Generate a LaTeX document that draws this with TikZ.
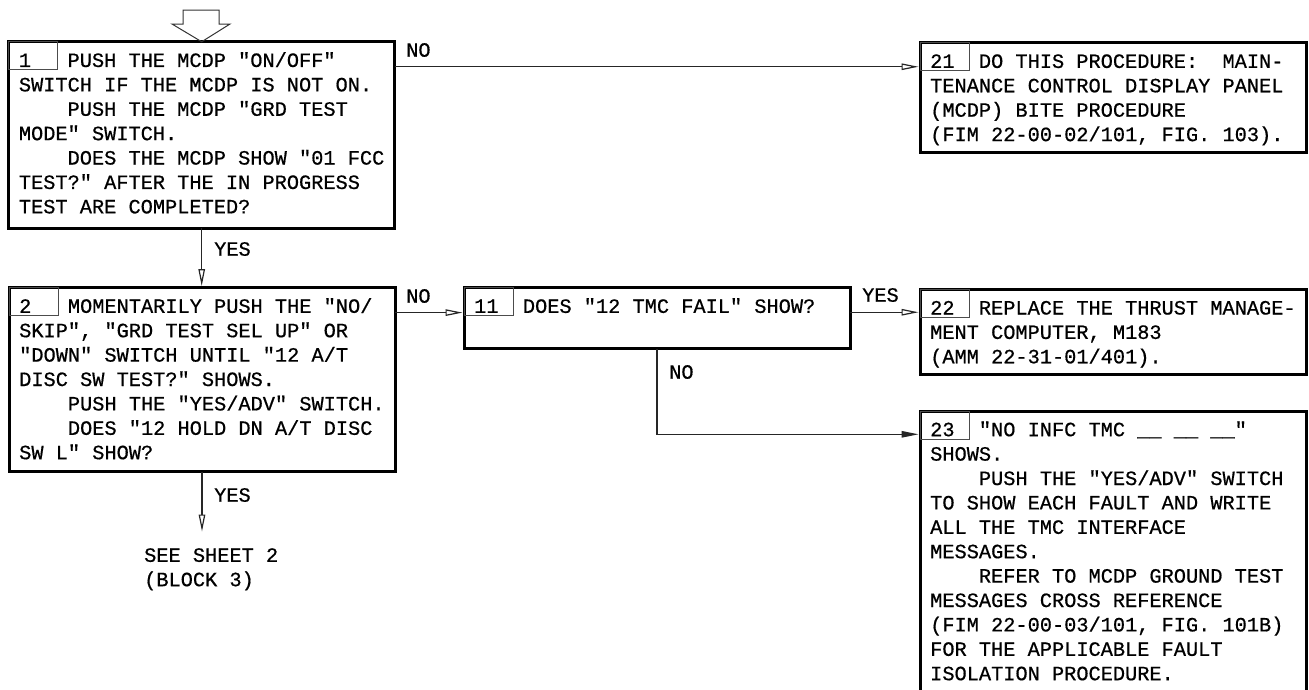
\documentclass[tikz,border=0pt]{standalone}
\usepackage{fontspec}
\newfontfamily\dmono[FakeBold=0.6]{Liberation Mono}
\usetikzlibrary{arrows.meta}
\newcommand\ind{\phantom{XXXX}}
\newcommand\fl{\rule{0pt}{17pt}}
\begin{document}
\begin{tikzpicture}[x=1pt,y=-1pt,
 box/.style={draw=black, line width=3pt, inner sep=0pt, outer sep=0pt, minimum width=386pt},
 tabbox/.style={draw=black!70, line width=0.9pt},
 txt/.style={inner sep=0pt, anchor=north west, align=left, text=black, font=\dmono\fontsize{20.3}{24.4}\selectfont\frenchspacing},
 lbl/.style={inner sep=0pt, anchor=west, text=black, font=\dmono\fontsize{20.3}{24.4}\selectfont},
 arr/.style={draw=black!85, line width=1.2pt, -{Triangle[open,length=17pt,width=6.5pt]}, shorten >=1.5pt},
 arrf/.style={draw=black!85, line width=1.2pt, -{Triangle[length=17pt,width=6.5pt]}, shorten >=1.5pt},
]
\useasboundingbox (0,0) rectangle (1309,689);

% boxes
\node[box, minimum height=186.3pt] (b1) at (201.7,134.9) {};
\node[box, minimum height=184pt] (b2) at (202,379.6) {};
\node[box, minimum height=61.3pt] (b11) at (657,318.3) {};
\node[box, minimum height=110pt] (b21) at (1113,97.7) {};
\node[box, minimum height=85pt] (b22) at (1113,331.8) {};
\node[box, minimum height=289pt] (b23) at (1113,555.5) {};

% number tabs
\foreach \b in {b1,b2,b11,b21,b22,b23}
  \draw[tabbox] (\b.north west) rectangle ++(49,28);

% texts
\node[txt] (t1) at ([shift={(10,8)}]b1.north west) {\fl 1\phantom{XXX}PUSH THE MCDP "ON/OFF"\\
SWITCH IF THE MCDP IS NOT ON.\\
\ind PUSH THE MCDP "GRD TEST\\
MODE" SWITCH.\\
\ind DOES THE MCDP SHOW "01 FCC\\
TEST?" AFTER THE IN PROGRESS\\
TEST ARE COMPLETED?};

\node[txt] (t2) at ([shift={(10,8)}]b2.north west) {\fl 2\phantom{XXX}MOMENTARILY PUSH THE "NO/\\
SKIP", "GRD TEST SEL UP" OR\\
"DOWN" SWITCH UNTIL "12 A/T\\
DISC SW TEST?" SHOWS.\\
\ind PUSH THE "YES/ADV" SWITCH.\\
\ind DOES "12 HOLD DN A/T DISC\\
SW L" SHOW?};

\node[txt] (t11) at ([shift={(10,8)}]b11.north west) {\fl 11\phantom{XX}DOES "12 TMC FAIL" SHOW?};

\node[txt] (t21) at ([shift={(10,8)}]b21.north west) {\fl 21\phantom{XX}DO THIS PROCEDURE:~~MAIN-\\
TENANCE CONTROL DISPLAY PANEL\\
(MCDP) BITE PROCEDURE\\
(FIM 22-00-02/101, FIG. 103).};

\node[txt] (t22) at ([shift={(10,8)}]b22.north west) {\fl 22\phantom{XX}REPLACE THE THRUST MANAGE-\\
MENT COMPUTER, M183\\
(AMM 22-31-01/401).};

\node[txt] (t23) at ([shift={(10,8)}]b23.north west) {\fl 23\phantom{XX}"NO INFC TMC \_\_~\_\_~\_\_"\\
SHOWS.\\
\ind PUSH THE "YES/ADV" SWITCH\\
TO SHOW EACH FAULT AND WRITE\\
ALL THE TMC INTERFACE\\
MESSAGES.\\
\ind REFER TO MCDP GROUND TEST\\
MESSAGES CROSS REFERENCE\\
(FIM 22-00-03/101, FIG. 101B)\\
FOR THE APPLICABLE FAULT\\
ISOLATION PROCEDURE.};

\node[txt] (sheet) at (144,544.6) {\fl SEE SHEET 2\\(BLOCK 3)};

% entry block arrow
\draw[draw=black!80, line width=1pt, line join=miter] (183,10) -- (219,10) -- (219,24) -- (230,24) -- (b1.north) -- (172,24) -- (183,24) -- cycle;

% connectors
\draw[arr] (b1.south) -- (b1.south |- b2.north);
\node[lbl] (y1) at (214,249) {YES};

\draw[arr] ([yshift=-25pt]b1.north east) -- ([yshift=-25pt]b1.north east -| b21.west);
\node[lbl] (n1) at (406,50) {NO};

\draw[arr] ([yshift=-25pt]b2.north east) -- ([yshift=-25pt]b2.north east -| b11.west);
\node[lbl] (n2) at (406,296) {NO};

\draw[arr] ([yshift=-24.6pt]b11.north east) -- ([yshift=-24.6pt]b11.north east -| b22.west);
\node[lbl] (y11) at (862,295) {YES};

\draw[arrf] (b11.south) |- ([yshift=-23.3pt]b23.north west);
\node[lbl] (n11) at (669,372) {NO};

\coordinate (e2) at (202,533);
\draw[arr] (b2.south) -- (e2);
\node[lbl] (y2) at (214,495) {YES};

\end{tikzpicture}
\end{document}
